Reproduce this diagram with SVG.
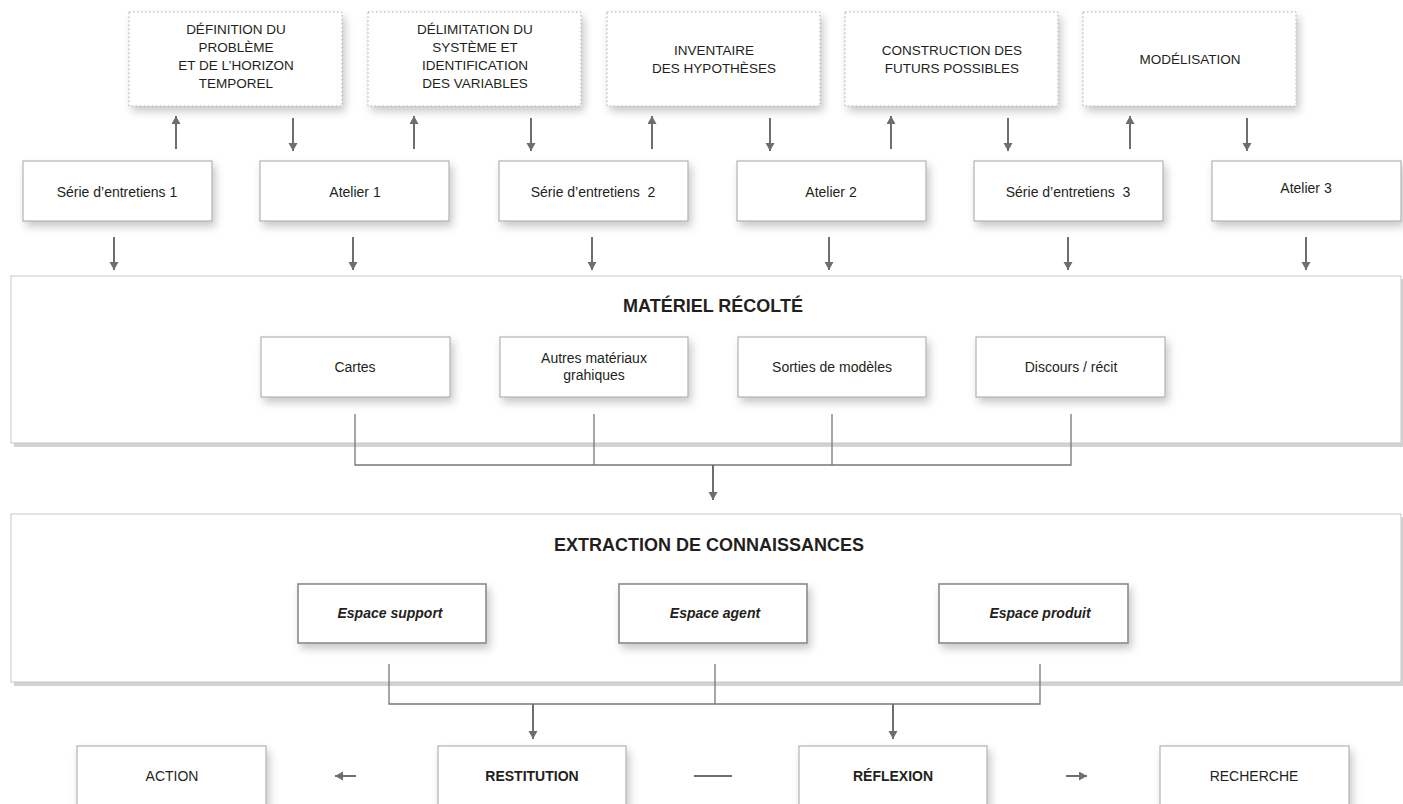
<svg xmlns="http://www.w3.org/2000/svg" width="1403" height="804" viewBox="0 0 1403 804">
<defs>
<style>
.t{font-family:"Liberation Sans",Arial,sans-serif;fill:#231f20;font-size:14px;text-anchor:middle}
.up{font-size:13.5px}
.h{font-size:18px;font-weight:bold}
.b{font-weight:bold}
.bi{font-weight:bold;font-style:italic}
.dot{fill:#fff;stroke:#a8a8a8;stroke-width:1;stroke-dasharray:1.5 2.5}
.box{fill:#fff;stroke:#a3a3a3;stroke-width:1}
.ebox{fill:#fff;stroke:#8a8a8a;stroke-width:1.6}
.big{fill:#fff;stroke:#c8c8c8;stroke-width:1}
.bigsh{fill:#d3d3d3}
.ar{stroke:#6e6e6e;stroke-width:2;fill:none;marker-end:url(#ah)}
.ln{stroke:#777;stroke-width:1.3;fill:none}
</style>
<marker id="ah" markerUnits="userSpaceOnUse" markerWidth="10" markerHeight="10" refX="8" refY="4.5" orient="auto">
<path d="M0,0 L8,4.5 L0,9 z" fill="#6e6e6e"/>
</marker>
<filter id="sh" x="-20%" y="-30%" width="150%" height="180%">
<feDropShadow dx="3" dy="5" stdDeviation="4" flood-color="#000" flood-opacity="0.22"/>
</filter>
</defs>
<rect width="1403" height="804" fill="#fff"/>

<!-- big containers -->
<g id="materiel">
<rect class="bigsh" x="14" y="279" width="1389" height="168"/>
<rect class="big" x="11" y="276" width="1390" height="167"/>
<text class="t h" x="713" y="312">MATÉRIEL RÉCOLTÉ</text>
</g>
<g id="extraction">
<rect class="bigsh" x="14" y="517" width="1389" height="169"/>
<rect class="big" x="11" y="514" width="1390" height="168"/>
<text class="t h" x="709" y="551">EXTRACTION DE CONNAISSANCES</text>
</g>

<!-- top dotted boxes -->
<g id="definition">
<rect class="dot" x="129" y="12" width="213" height="94" filter="url(#sh)"/>
<text class="t up" x="236"><tspan x="236" y="34">DÉFINITION DU</tspan><tspan x="236" y="52">PROBLÈME</tspan><tspan x="236" y="70">ET DE L’HORIZON</tspan><tspan x="236" y="88">TEMPOREL</tspan></text>
</g>
<g id="delimitation">
<rect class="dot" x="368" y="12" width="213" height="94" filter="url(#sh)"/>
<text class="t up" x="475"><tspan x="475" y="34">DÉLIMITATION DU</tspan><tspan x="475" y="52">SYSTÈME ET</tspan><tspan x="475" y="70">IDENTIFICATION</tspan><tspan x="475" y="88">DES VARIABLES</tspan></text>
</g>
<g id="inventaire">
<rect class="dot" x="607" y="12" width="213" height="94" filter="url(#sh)"/>
<text class="t up" x="714"><tspan x="714" y="55">INVENTAIRE</tspan><tspan x="714" y="73">DES HYPOTHÈSES</tspan></text>
</g>
<g id="construction">
<rect class="dot" x="845" y="12" width="213" height="94" filter="url(#sh)"/>
<text class="t up" x="952"><tspan x="952" y="55">CONSTRUCTION DES</tspan><tspan x="952" y="73">FUTURS POSSIBLES</tspan></text>
</g>
<g id="modelisation">
<rect class="dot" x="1083" y="12" width="213" height="94" filter="url(#sh)"/>
<text class="t up" x="1190" y="64">MODÉLISATION</text>
</g>

<!-- middle row -->
<g id="serie1">
<rect class="box" x="23" y="161" width="189" height="60" filter="url(#sh)"/>
<text class="t" x="117" y="197">Série d’entretiens 1</text>
</g>
<g id="atelier1">
<rect class="box" x="260" y="161" width="189" height="60" filter="url(#sh)"/>
<text class="t" x="355" y="197">Atelier 1</text>
</g>
<g id="serie2">
<rect class="box" x="499" y="161" width="189" height="60" filter="url(#sh)"/>
<text class="t" x="593" y="197">Série d’entretiens&#160; 2</text>
</g>
<g id="atelier2">
<rect class="box" x="737" y="161" width="189" height="60" filter="url(#sh)"/>
<text class="t" x="831" y="197">Atelier 2</text>
</g>
<g id="serie3">
<rect class="box" x="974" y="161" width="189" height="60" filter="url(#sh)"/>
<text class="t" x="1068" y="197">Série d’entretiens&#160; 3</text>
</g>
<g id="atelier3">
<rect class="box" x="1212" y="161" width="189" height="60" filter="url(#sh)"/>
<text class="t" x="1306" y="193">Atelier 3</text>
</g>

<!-- materiel sub boxes -->
<g id="cartes">
<rect class="box" x="261" y="337" width="189" height="60" filter="url(#sh)"/>
<text class="t" x="355" y="372">Cartes</text>
</g>
<g id="autres">
<rect class="box" x="500" y="337" width="188" height="60" filter="url(#sh)"/>
<text class="t"><tspan x="594" y="363">Autres matériaux</tspan><tspan x="594" y="380">grahiques</tspan></text>
</g>
<g id="sorties">
<rect class="box" x="738" y="337" width="188" height="60" filter="url(#sh)"/>
<text class="t" x="832" y="372">Sorties de modèles</text>
</g>
<g id="discours">
<rect class="box" x="976" y="337" width="189" height="60" filter="url(#sh)"/>
<text class="t" x="1071" y="372">Discours / récit</text>
</g>

<!-- extraction sub boxes -->
<g id="espace-support">
<rect class="ebox" x="298" y="584" width="188" height="59" filter="url(#sh)"/>
<text class="t bi" x="390" y="618">Espace support</text>
</g>
<g id="espace-agent">
<rect class="ebox" x="619" y="584" width="188" height="59" filter="url(#sh)"/>
<text class="t bi" x="715" y="618">Espace agent</text>
</g>
<g id="espace-produit">
<rect class="ebox" x="939" y="584" width="189" height="59" filter="url(#sh)"/>
<text class="t bi" x="1040" y="618">Espace produit</text>
</g>

<!-- bottom row -->
<g id="action">
<rect class="box" x="77" y="746" width="189" height="80" filter="url(#sh)"/>
<text class="t" x="172" y="781">ACTION</text>
</g>
<g id="restitution">
<rect class="box" x="438" y="746" width="188" height="80" filter="url(#sh)"/>
<text class="t b" x="532" y="781">RESTITUTION</text>
</g>
<g id="reflexion">
<rect class="box" x="799" y="746" width="188" height="80" filter="url(#sh)"/>
<text class="t b" x="893" y="781">RÉFLEXION</text>
</g>
<g id="recherche">
<rect class="box" x="1160" y="746" width="189" height="80" filter="url(#sh)"/>
<text class="t" x="1254" y="781">RECHERCHE</text>
</g>

<!-- connectors -->
<g id="connectors">
<line class="ar" x1="176" y1="149" x2="176" y2="116"/>
<line class="ar" x1="414" y1="149" x2="414" y2="116"/>
<line class="ar" x1="652" y1="149" x2="652" y2="116"/>
<line class="ar" x1="891" y1="149" x2="891" y2="116"/>
<line class="ar" x1="1130" y1="149" x2="1130" y2="116"/>
<line class="ar" x1="293" y1="118" x2="293" y2="151"/>
<line class="ar" x1="531" y1="118" x2="531" y2="151"/>
<line class="ar" x1="770" y1="118" x2="770" y2="151"/>
<line class="ar" x1="1008" y1="118" x2="1008" y2="151"/>
<line class="ar" x1="1247" y1="118" x2="1247" y2="151"/>
<line class="ar" x1="114" y1="237" x2="114" y2="270"/>
<line class="ar" x1="353" y1="237" x2="353" y2="270"/>
<line class="ar" x1="592" y1="237" x2="592" y2="270"/>
<line class="ar" x1="829" y1="237" x2="829" y2="270"/>
<line class="ar" x1="1068" y1="237" x2="1068" y2="270"/>
<line class="ar" x1="1306" y1="237" x2="1306" y2="270"/>
<path class="ln" d="M355,414 V465 H1071 V414 M594,414 V465 M832,414 V465"/>
<line class="ar" x1="713" y1="465" x2="713" y2="500"/>
<path class="ln" d="M389,664 V704 H1040 V664 M715,664 V704"/>
<line class="ar" x1="533" y1="704" x2="533" y2="739"/>
<line class="ar" x1="893" y1="704" x2="893" y2="739"/>
<line class="ar" x1="356" y1="776" x2="335" y2="776"/>
<line class="ar" x1="1066" y1="776" x2="1087" y2="776"/>
<line x1="694" y1="776" x2="732" y2="776" stroke="#6e6e6e" stroke-width="2.2"/>
</g>
</svg>
